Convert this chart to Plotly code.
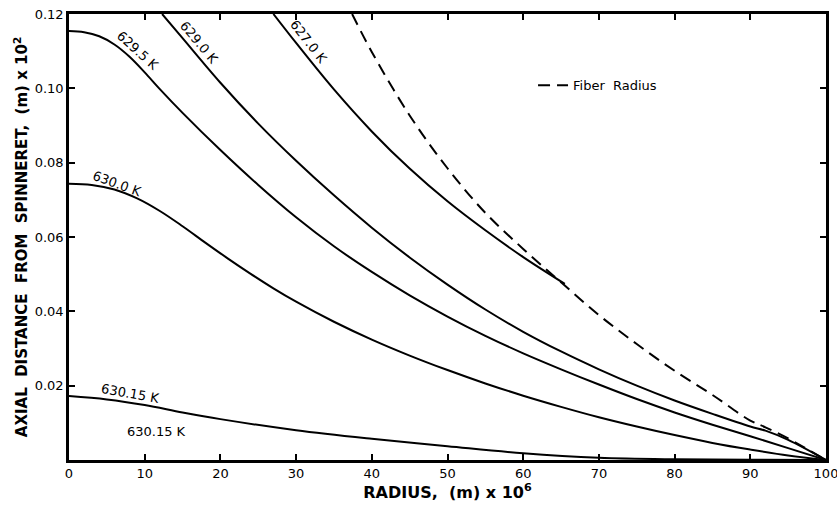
import plotly.graph_objects as go

# ---- data (radius in m x 1e6, axial distance in m x 1e2) ----
x_6295 = [0, 2, 4, 6, 8, 10, 12, 15, 20, 25, 30, 35, 40, 45, 50, 55, 60, 65, 70, 75, 80, 85, 90, 95, 100]
y_6295 = [0.1154, 0.1151, 0.1140, 0.1118, 0.1085, 0.1043, 0.0998, 0.0934, 0.0834, 0.0740, 0.0653,
          0.0575, 0.0506, 0.0443, 0.0386, 0.0334, 0.0287, 0.0244, 0.0203, 0.0164, 0.0128, 0.0095,
          0.0064, 0.0032, 0.0]

x_6290 = [12.3, 15, 20, 25, 30, 35, 40, 45, 50, 55, 60, 65, 70, 75, 80, 85, 90, 92, 95, 100]
y_6290 = [0.1200, 0.1135, 0.1015, 0.0905, 0.0805, 0.0712, 0.0625, 0.0545, 0.0472, 0.0405, 0.0345,
          0.0292, 0.0244, 0.0200, 0.0160, 0.0124, 0.0090, 0.0079, 0.0054, 0.0]

x_6270 = [27, 30, 35, 40, 45, 50, 55, 60, 65.5]
y_6270 = [0.1200, 0.1122, 0.0997, 0.0884, 0.0784, 0.0696, 0.0618, 0.0546, 0.0474]

x_6300 = [0, 3, 6, 9, 12, 15, 18, 21, 24, 27, 30, 35, 40, 45, 50, 55, 60, 65, 70, 75, 80, 85, 90, 95, 100]
y_6300 = [0.0743, 0.0740, 0.0728, 0.0704, 0.0670, 0.0629, 0.0585, 0.0542, 0.0501, 0.0462, 0.0426,
          0.0372, 0.0324, 0.0281, 0.0242, 0.0206, 0.0173, 0.0143, 0.0115, 0.0090, 0.0067, 0.0046,
          0.0028, 0.0012, 0.0]

x_63015 = [0, 5, 10, 15, 20, 30, 40, 50, 60, 70, 80, 90, 100]
y_63015 = [0.0172, 0.0163, 0.0148, 0.0128, 0.0110, 0.0080, 0.0057, 0.0037, 0.0018, 0.0006, 0.0002, 0.0001, 0.0]

x_fiber = [37.4, 40, 45, 50, 55, 60, 65, 70, 75, 80, 85, 90, 92, 95, 100]
y_fiber = [0.1200, 0.1098, 0.0927, 0.0785, 0.0665, 0.0568, 0.0478, 0.0390, 0.0312, 0.0240, 0.0175,
           0.0106, 0.0088, 0.0058, 0.0]

x_ticks = [0, 10, 20, 30, 40, 50, 60, 70, 80, 90, 100]
y_ticks = [0.02, 0.04, 0.06, 0.08, 0.10, 0.12]

FONT = "DejaVu Sans"
fig = go.Figure()

solid = [(x_6295, y_6295), (x_6290, y_6290), (x_6270, y_6270), (x_6300, y_6300), (x_63015, y_63015)]
for xs, ys in solid:
    fig.add_trace(go.Scatter(x=xs, y=ys, mode="lines", line=dict(color="black", width=2, shape="spline"),
                             showlegend=False, hoverinfo="skip"))

fig.add_trace(go.Scatter(x=x_fiber, y=y_fiber, mode="lines", name="Fiber  Radius",
                         line=dict(color="black", width=2, dash="12px,7px", shape="spline")))

labels = [
    (9.1, 0.1103, "629.5 K", 42),
    (17.2, 0.1124, "629.0 K", 50),
    (31.6, 0.1125, "627.0 K", 52),
    (6.3, 0.0745, "630.0 K", 20),
    (8.1, 0.0180, "630.15 K", 10),
    (11.6, 0.0078, "630.15 K", 0),
]
for lx, ly, txt, ang in labels:
    fig.add_annotation(x=lx, y=ly, text=txt, showarrow=False, textangle=ang,
                       font=dict(family=FONT, size=13, color="black"))

fig.update_layout(
    width=837, height=512,
    margin=dict(l=69, r=11, t=14, b=52),
    paper_bgcolor="white", plot_bgcolor="white",
    font=dict(family=FONT, color="black"),
    legend=dict(x=0.613, y=0.84, xanchor="left", yanchor="middle", bgcolor="rgba(0,0,0,0)",
                font=dict(family=FONT, size=13)),
)
fig.update_xaxes(range=[0, 100], tickvals=x_ticks, ticktext=[str(v) for v in x_ticks], automargin=False,
                 ticklabeloverflow="allow",
                 showgrid=False, zeroline=False, showline=True, linecolor="black", linewidth=2.5,
                 mirror="ticks", ticks="inside", ticklen=6, tickcolor="black", tickwidth=1.5,
                 tickfont=dict(family=FONT, size=13),
                 title=dict(text="<b>RADIUS,  (m) x 10<sup>6</sup></b>", font=dict(family=FONT, size=16), standoff=2))
fig.update_yaxes(range=[0, 0.12], tickvals=y_ticks, ticktext=[f"{v:.2f}" for v in y_ticks], automargin=False,
                 ticklabeloverflow="allow",
                 showgrid=False, zeroline=False, showline=True, linecolor="black", linewidth=2.5,
                 mirror="ticks", ticks="inside", ticklen=6, tickcolor="black", tickwidth=1.5,
                 tickfont=dict(family=FONT, size=13),
                 title=dict(text="<b>AXIAL  DISTANCE  FROM  SPINNERET,  (m) x 10<sup>2</sup></b>",
                            font=dict(family=FONT, size=15), standoff=4))

fig.write_html("out.html")
